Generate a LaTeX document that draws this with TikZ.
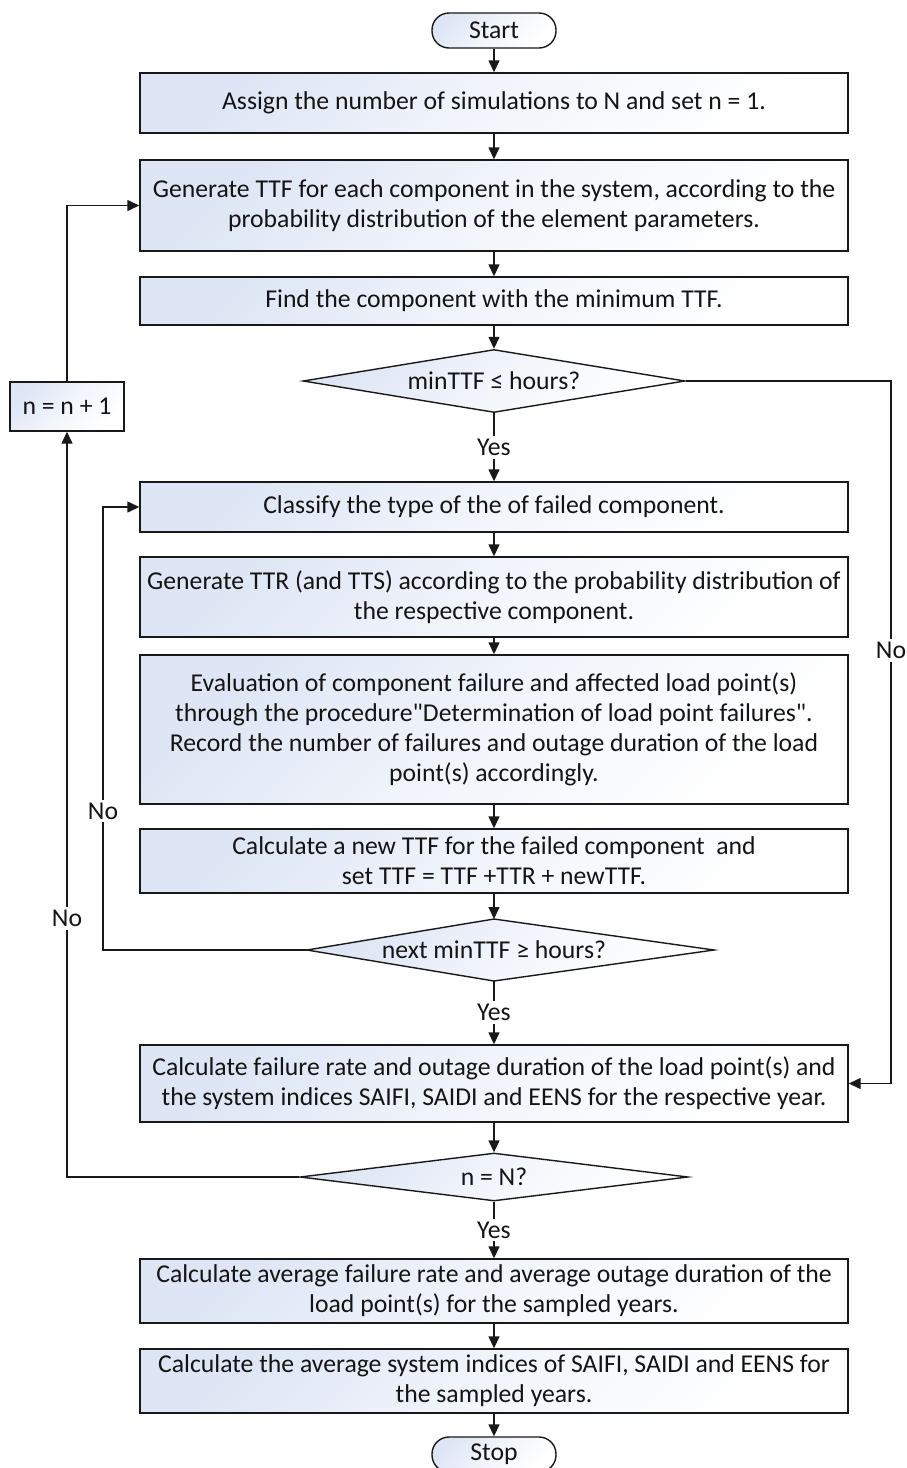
\documentclass[tikz,border=0pt]{standalone}
\usepackage{fontspec}
\setmainfont{Carlito}[Ligatures=TeXOff]
\usetikzlibrary{shapes.geometric,arrows.meta}
\definecolor{boxblue}{RGB}{222,230,245}
\definecolor{edge}{RGB}{25,25,25}
\begin{document}
\begin{tikzpicture}[x=1pt,y=-1pt,
  every node/.style={font=\fontsize{25.7}{30}\selectfont, text=black!92},
  shaded/.style={draw=edge, line width=1.4pt, top color=boxblue, bottom color=white, middle color=boxblue!40!white, shading angle=45},
  procbox/.style={shaded, rectangle, minimum width=708, inner sep=0, align=center},
  term/.style={shaded, rectangle, rounded corners=17pt, minimum width=124, minimum height=35, inner sep=0},
  decision/.style={shaded, diamond, inner sep=0, align=center},
  flow/.style={draw=edge, line width=1.4pt, -{Triangle[length=12pt,width=11pt]}},
  lbl/.style={fill=white, inner sep=3pt}
]
\useasboundingbox (0,0) rectangle (907,1468);

% main column of steps
\node[term] (start) at (494,30.5) {Start};
\node[procbox, minimum height=60] (assign) at (494,103)
  {Assign the number of simulations to N and set n = 1.};
\node[procbox, minimum height=91] (genttf) at (494,205.5)
  {Generate TTF for each component in the system, according to the\\probability distribution of the element parameters.};
\node[procbox, minimum height=48] (findmin) at (494,301)
  {Find the component with the minimum TTF.};
\node[decision, aspect=6.06, minimum width=382, minimum height=63] (chkhours) at (494,381)
  {minTTF ≤ hours?};
\node[procbox, minimum height=50] (classify) at (494,507)
  {Classify the type of the of failed component.};
\node[procbox, minimum height=80] (genttr) at (494,597)
  {Generate TTR (and TTS) according to the probability distribution of\\the respective component.};
\node[procbox, minimum height=149] (evaluate) at (494,729.5)
  {Evaluation of component failure and affected load point(s)\\through the procedure"Determination of load point failures".\\Record the number of failures and outage duration of the load\\point(s) accordingly.};
\node[procbox, minimum height=64] (newttf) at (494,861)
  {Calculate a new TTF for the failed component~~and\\set TTF = TTF +TTR + newTTF.};

% second check: a diamond whose right half is a little longer
\coordinate (chknext-n) at (494,919);
\coordinate (chknext-s) at (494,981);
\coordinate (chknext-w) at (307,950);
\coordinate (chknext-e) at (714,950);
\path[shaded] (chknext-w) -- (chknext-n) -- (chknext-e) -- (chknext-s) -- cycle;
\node (chknext) at (494,950) {next minTTF ≥ hours?};

\node[procbox, minimum height=77] (yearidx) at (494,1083.5)
  {Calculate failure rate and outage duration of the load point(s) and\\the system indices SAIFI, SAIDI and EENS for the respective year.};
\node[decision, aspect=8.08, minimum width=388, minimum height=48] (chkn) at (494,1177)
  {n = N?};
\node[procbox, minimum height=64] (avgload) at (494,1291)
  {Calculate average failure rate and average outage duration of the\\load point(s) for the sampled years.};
\node[procbox, minimum height=64] (avgsys) at (494,1381)
  {Calculate the average system indices of SAIFI, SAIDI and EENS for\\the sampled years.};
\node[term] (stop) at (494,1454.5) {Stop};

% counter update on the left
\node[shaded, rectangle, minimum width=114, minimum height=49, inner sep=0] (incr) at (67,406.5) {n = n + 1};

% turning points of the loops
\coordinate (innerturn) at (103,507);
\coordinate (rightturn) at (891,1083.5);

% straight flow
\draw[flow] (start) -- (assign);
\draw[flow] (assign) -- (genttf);
\draw[flow] (genttf) -- (findmin);
\draw[flow] (findmin) -- (chkhours);
\draw[flow] (chkhours) -- node[lbl] {Yes} (classify);
\draw[flow] (classify) -- (genttr);
\draw[flow] (genttr) -- (evaluate);
\draw[flow] (evaluate) -- (newttf);
\draw[flow] (newttf) -- (chknext-n);
\draw[flow] (chknext-s) -- node[lbl] {Yes} (yearidx);
\draw[flow] (yearidx) -- (chkn);
\draw[flow] (chkn) -- node[lbl] {Yes} (avgload);
\draw[flow] (avgload) -- (avgsys);
\draw[flow] (avgsys) -- (stop);

% loops
\draw[flow] (chkhours.east) -| node[lbl, pos=0.692] {No} (rightturn) -- (yearidx.east);
\draw[flow] (chknext-w) -| node[lbl, pos=0.657] {No} (innerturn) -- (classify.west);
\draw[flow] (chkn.west) -| node[lbl, pos=0.6735] {No} (incr.south);
\draw[flow] (incr.north) |- (genttf.west);
\end{tikzpicture}
\end{document}
